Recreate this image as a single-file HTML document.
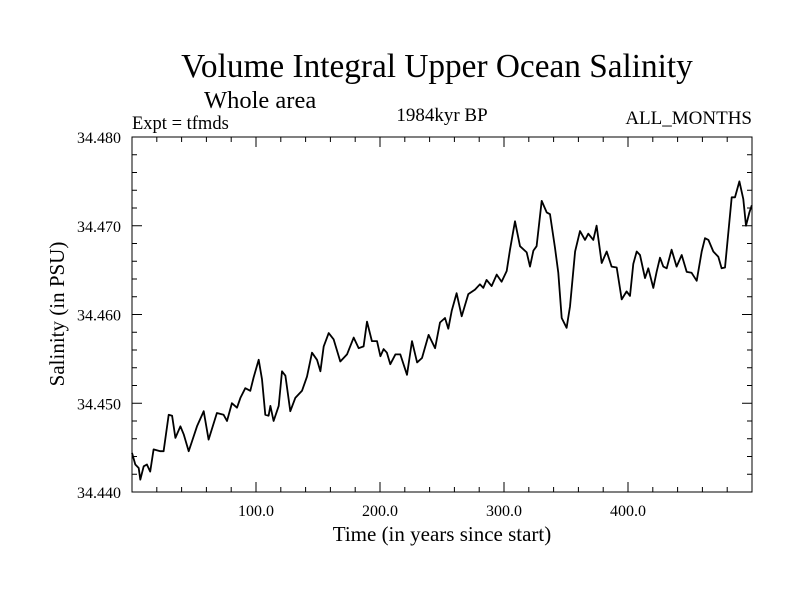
<!DOCTYPE html>
<html><head><meta charset="utf-8"><style>
body{margin:0;background:#fff}
svg{display:block;font-family:"Liberation Serif",serif}
</style></head><body>
<svg id="chart" width="800" height="600">
<rect width="800" height="600" fill="#fff"/>
<text x="437" y="77" font-size="33.3" text-anchor="middle">Volume Integral Upper Ocean Salinity</text>
<text x="204" y="108" font-size="24.5">Whole area</text>
<text x="132" y="129" font-size="18.5">Expt = tfmds</text>
<text x="442" y="121" font-size="19" text-anchor="middle">1984kyr BP</text>
<text x="752" y="124" font-size="19" text-anchor="end">ALL_MONTHS</text>
<text x="442" y="541" font-size="21" text-anchor="middle">Time (in years since start)</text>
<text transform="translate(64,314) rotate(-90)" font-size="21" text-anchor="middle">Salinity (in PSU)</text>
<g id="axes"></g>
<path id="line" fill="none" stroke="#000" stroke-width="1.8" stroke-linejoin="round"/>
<rect x="132" y="137" width="620" height="355" fill="none" stroke="#000" stroke-width="1"/>
</svg>
<script>
const years=[0,2.7,5.4,6.7,9.4,12,14.7,17.4,22.8,25.5,29.6,32.3,35,39,41.7,45.7,48.4,52.4,57.8,61.8,68.5,73.9,76.6,80.6,84.7,87.4,91.4,95.4,98.1,102.2,104.8,107.5,110.2,111.6,114.2,118.3,121,123.7,127.7,131.7,137.1,141.1,145.2,149.2,151.9,154.6,158.6,162.6,168,173.4,178.8,182.8,186.8,189.5,193.5,197.6,200.3,202.9,205.6,208.3,212.4,216.4,221.8,225.8,229.9,233.9,239.2,244.4,248.4,252.4,255.1,257.8,261.8,265.9,271.2,276.6,280.6,283.3,286,290,294.1,298.1,302.2,304.8,308.9,312.9,318.3,321,323.7,326.3,330.4,334.4,337.1,341.1,343.8,346.5,350.5,353.2,357.3,361.3,365.3,368,372,374.7,378.8,382.8,386.8,390.9,394.9,398.9,401.6,404.3,407,409.7,413.7,416.4,420.4,423.1,425.8,428.5,431.2,435.2,439.2,443.3,447.3,451.3,455.4,459.4,462.1,464.8,468.8,472.8,475.5,478.2,483.6,486.3,489.8,493,495.2,497.9,499.8];
const salinity=[34.4444,34.4431,34.4427,34.4414,34.4429,34.4431,34.4423,34.4448,34.4446,34.4446,34.4487,34.4486,34.4461,34.4474,34.4465,34.4446,34.4457,34.4474,34.4491,34.4459,34.4489,34.4487,34.4480,34.4500,34.4495,34.4506,34.4517,34.4514,34.4529,34.4549,34.4527,34.4487,34.4486,34.4497,34.4480,34.4497,34.4536,34.4531,34.4491,34.4506,34.4514,34.4530,34.4557,34.4549,34.4536,34.4564,34.4579,34.4572,34.4547,34.4555,34.4574,34.4562,34.4564,34.4592,34.4570,34.4570,34.4553,34.4561,34.4557,34.4544,34.4555,34.4555,34.4532,34.4570,34.4546,34.4551,34.4577,34.4562,34.4591,34.4596,34.4584,34.4604,34.4624,34.4598,34.4623,34.4628,34.4634,34.4630,34.4639,34.4632,34.4645,34.4637,34.4649,34.4673,34.4705,34.4677,34.4670,34.4654,34.4672,34.4677,34.4728,34.4715,34.4713,34.4675,34.4647,34.4596,34.4585,34.4609,34.4671,34.4694,34.4684,34.4691,34.4684,34.4700,34.4658,34.4671,34.4654,34.4653,34.4617,34.4626,34.4621,34.4657,34.4671,34.4667,34.4641,34.4652,34.4630,34.4648,34.4664,34.4654,34.4652,34.4673,34.4654,34.4667,34.4648,34.4647,34.4638,34.4671,34.4686,34.4684,34.4671,34.4665,34.4652,34.4653,34.4732,34.4732,34.4750,34.4730,34.4700,34.4715,34.4723];
const xTicks=[100,200,300,400];
const xTickLabels=["100.0","200.0","300.0","400.0"];
const yTicks=[34.44,34.45,34.46,34.47,34.48];
const yTickLabels=["34.440","34.450","34.460","34.470","34.480"];
const X0=132,X1=752,Y0=492,Y1=137;
const xs=v=>X0+(v-0)/(500-0)*(X1-X0);
const ys=v=>Y0-(v-34.44)/(0.04)*(Y0-Y1);
const NS="http://www.w3.org/2000/svg";
const g=document.getElementById('axes');
function ln(x1,y1,x2,y2,name){const l=document.createElementNS(NS,'line');l.setAttribute('x1',x1);l.setAttribute('y1',y1);l.setAttribute('x2',x2);l.setAttribute('y2',y2);l.setAttribute('stroke','#000');l.setAttribute('stroke-width','1');


g.appendChild(l);}
for(let v=20;v<500;v+=20){const x=xs(v);const major=v%100===0;const L=major?10:5;ln(x,Y0,x,Y0-L,'x-tick');ln(x,Y1,x,Y1+L,'x-tick-top');}
for(let k=1;k<20;k++){const v=34.44+k*0.002;const y=ys(v);const major=k%5===0;const L=major?10:5;ln(X0,y,X0+L,y,'y-tick');ln(X1,y,X1-L,y,'y-tick-right');}
xTicks.forEach((v,i)=>{const t=document.createElementNS(NS,'text');t.setAttribute('x',xs(v));t.setAttribute('y',Y0+24);t.setAttribute('font-size','16');t.setAttribute('text-anchor','middle');t.textContent=xTickLabels[i];


g.appendChild(t);});
yTicks.forEach((v,i)=>{const t=document.createElementNS(NS,'text');t.setAttribute('x',121);t.setAttribute('y',ys(v)+6);t.setAttribute('font-size','16');t.setAttribute('text-anchor','end');t.textContent=yTickLabels[i];


g.appendChild(t);});
document.getElementById('line').setAttribute('d',years.map((y,i)=>(i?'L':'M')+xs(y).toFixed(1)+','+ys(salinity[i]).toFixed(1)).join(''));
</script>
</body></html>
